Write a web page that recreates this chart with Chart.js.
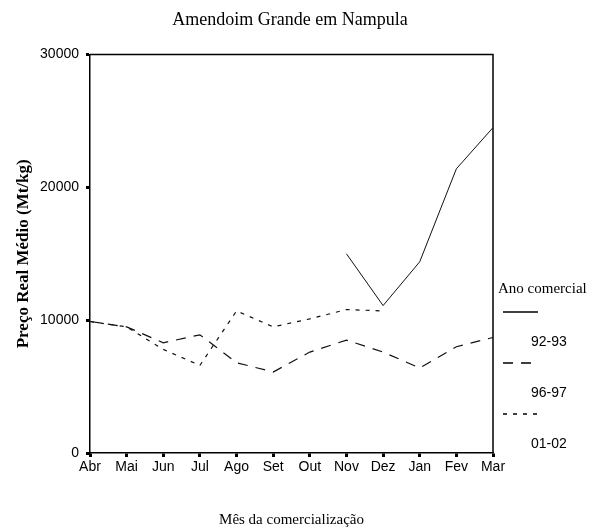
<!DOCTYPE html>
<html>
<head>
<meta charset="utf-8">
<script src="https://cdn.jsdelivr.net/npm/chart.js@4"></script>
<style>
  body { margin: 0; background: #fff; }
  #wrap { width: 601px; height: 531px; }
</style>
</head>
<body>
<div id="wrap"><canvas id="myChart" width="601" height="531"></canvas></div>
<script>
var months = ["Abr", "Mai", "Jun", "Jul", "Ago", "Set", "Out", "Nov", "Dez", "Jan", "Fev", "Mar"];
var ano9293 = [null, null, null, null, null, null, null, 15000, 11100, 14400, 21400, 24500];
var ano9697 = [9900, 9500, 8300, 8900, 6800, 6100, 7600, 8500, 7600, 6400, 8000, 8700];
var ano0102 = [9900, 9500, 7800, 6600, 10700, 9500, 10100, 10800, 10700, null, null, null];
var yTicks = [0, 10000, 20000, 30000];

var serif = "'Liberation Serif', 'Times New Roman', serif";
var sans = "'Liberation Sans', Arial, sans-serif";

// frame around plot + legend on the right
var framePlugin = {
  id: "frame",
  afterDraw: function (chart) {
    var c = chart.ctx, a = chart.chartArea;
    c.save();
    c.strokeStyle = "#000";
    c.lineWidth = 1.5;
    c.beginPath();
    c.moveTo(a.left, a.top);
    c.lineTo(a.right, a.top);
    c.lineTo(a.right, a.bottom);
    c.stroke();

    c.fillStyle = "#000";
    c.textBaseline = "middle";
    c.textAlign = "left";
    c.font = "15px " + serif;
    c.fillText("Ano comercial", a.right + 5, 289);

    var sets = chart.data.datasets;
    for (var i = 0; i < sets.length; i++) {
      var ly = 312 + i * 51;
      c.beginPath();
      c.lineWidth = 1.5;
      c.setLineDash(sets[i].borderDash || []);
      c.moveTo(a.right + 10, ly);
      c.lineTo(a.right + 45, ly);
      c.stroke();
      c.setLineDash([]);
      c.font = "14px " + sans;
      c.fillText(sets[i].label, a.right + 38, ly + 30);
    }
    c.restore();
  }
};

document.addEventListener("DOMContentLoaded", function () {
  var ctx = document.getElementById("myChart").getContext("2d");
  var myChart = new Chart(ctx, {
    type: "line",
    data: {
      labels: months,
      datasets: [
        {
          label: "92-93",
          data: ano9293,
          borderColor: "#111",
          borderWidth: 1,
          pointRadius: 0,
          fill: false
        },
        {
          label: "96-97",
          data: ano9697,
          borderColor: "#111",
          borderWidth: 1.2,
          borderDash: [10, 8],
          pointRadius: 0,
          fill: false
        },
        {
          label: "01-02",
          data: ano0102,
          borderColor: "#111",
          borderWidth: 1.2,
          borderDash: [4, 6],
          pointRadius: 0,
          fill: false
        }
      ]
    },
    plugins: [framePlugin],
    options: {
      responsive: false,
      animation: false,
      layout: { padding: { left: 0, right: 21, top: 0, bottom: 0 } },
      plugins: {
        legend: { display: false },
        tooltip: { enabled: false },
        title: {
          display: true,
          text: "Amendoim Grande em Nampula",
          color: "#000",
          font: { family: serif, size: 18, weight: "normal" },
          padding: { top: 9, bottom: 24 }
        }
      },
      scales: {
        x: {
          offset: false,
          afterFit: function (s) { s.height = 78; },
          grid: { drawOnChartArea: false, tickLength: 4, tickWidth: 3, tickColor: "#000" },
          border: { color: "#000", width: 1.5 },
          ticks: { color: "#000", font: { family: sans, size: 14 }, padding: 2, maxRotation: 0, autoSkip: false },
          title: {
            display: true,
            text: "Mês da comercialização",
            color: "#000",
            font: { family: serif, size: 15 },
            padding: { top: 0, bottom: 2 }
          }
        },
        y: {
          min: 0,
          max: 30000,
          afterFit: function (s) { s.width = 90; },
          afterBuildTicks: function (s) {
            s.ticks = yTicks.map(function (v) { return { value: v }; });
          },
          grid: { drawOnChartArea: false, tickLength: 4, tickWidth: 3, tickColor: "#000" },
          border: { color: "#000", width: 1.5 },
          ticks: {
            color: "#000",
            font: { family: sans, size: 14 },
            padding: 7,
            callback: function (v) { return String(v); }
          },
          title: {
            display: true,
            text: "Preço Real Médio (Mt/kg)",
            color: "#000",
            font: { family: serif, size: 17, weight: "bold" },
            padding: { top: 13, bottom: 0 }
          }
        },
        // empty right-hand axis that only reserves room for the legend
        yRight: {
          position: "right",
          min: 0,
          max: 30000,
          afterFit: function (s) { s.width = 87; },
          grid: { display: false },
          border: { display: false },
          ticks: { display: false }
        }
      }
    }
  });
});
</script>
</body>
</html>
